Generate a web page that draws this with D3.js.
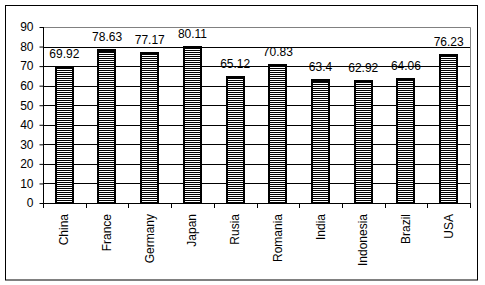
<!DOCTYPE html>
<html>
<head>
<meta charset="utf-8">
<script src="https://cdn.jsdelivr.net/npm/d3@7"></script>
<style>
  body { margin: 0; background: #fff; }
  svg { display: block; font-family: Arial, "Liberation Sans", sans-serif; }
</style>
</head>
<body>
<svg id="chart"></svg>
<script>
var countries = ["China", "France", "Germany", "Japan", "Rusia", "Romania", "India", "Indonesia", "Brazil", "USA"];
var values = [69.92, 78.63, 77.17, 80.11, 65.12, 70.83, 63.4, 62.92, 64.06, 76.23];
var yTicks = [0, 10, 20, 30, 40, 50, 60, 70, 80, 90];

var width = 485;
var height = 285;
var plotLeft = 43, plotRight = 470, plotTop = 27, plotBottom = 203;

var svg = d3.select("#chart").attr("width", width).attr("height", height);

// stripe pattern for bars
var defs = svg.append("defs");
var pat = defs.append("pattern")
    .attr("id", "stripes")
    .attr("patternUnits", "userSpaceOnUse")
    .attr("width", 4).attr("height", 2);
pat.append("rect").attr("width", 4).attr("height", 2).attr("fill", "#fff");
pat.append("rect").attr("width", 4).attr("height", 1).attr("fill", "#000");

// outer border
svg.append("rect")
    .attr("x", 5.5).attr("y", 5.5)
    .attr("width", 472).attr("height", 274.5)
    .attr("fill", "#fff").attr("stroke", "#000");

var x = d3.scaleBand().domain(countries).range([plotLeft, plotRight]).paddingInner(0.55).paddingOuter(0.275);
var y = d3.scaleLinear().domain([0, 90]).range([plotBottom, plotTop]);

// gridlines
svg.append("g").selectAll("line")
    .data(yTicks.filter(function(d) { return d > 0 && d < 90; }))
    .enter().append("line")
    .attr("x1", plotLeft).attr("x2", plotRight)
    .attr("y1", function(d) { return Math.round(y(d)) + 0.5; })
    .attr("y2", function(d) { return Math.round(y(d)) + 0.5; })
    .attr("stroke", "#000");

// plot border top/right (gray)
svg.append("path")
    .attr("d", "M" + plotLeft + "," + (plotTop + 0.5) + "H" + (plotRight + 0.5) + "V" + plotBottom)
    .attr("fill", "none").attr("stroke", "#808080");

// bars
var bars = svg.append("g").selectAll("g")
    .data(values)
    .enter().append("g");

bars.append("rect")
    .attr("x", function(d, i) { return Math.round(x(countries[i])) + 1; })
    .attr("y", function(d) { return Math.round(y(d)) + 1.5; })
    .attr("width", Math.round(x.bandwidth()) - 2)
    .attr("height", function(d) { return plotBottom - Math.round(y(d)) - 1.5; })
    .attr("fill", "url(#stripes)")
    .attr("stroke", "#000").attr("stroke-width", 2);

bars.append("rect")
    .attr("x", function(d, i) { return Math.round(x(countries[i])); })
    .attr("y", function(d) { return Math.round(y(d)); })
    .attr("width", Math.round(x.bandwidth()))
    .attr("height", 3)
    .attr("fill", "#000");

// data labels
bars.append("text")
    .attr("x", function(d, i) { return x(countries[i]) + x.bandwidth() / 2; })
    .attr("y", function(d) { return Math.round(y(d)) - 8; })
    .attr("text-anchor", "middle")
    .attr("font-size", 12)
    .text(function(d) { return d; });

// y axis
var yAxis = d3.axisLeft(y).tickValues(yTicks).tickSize(4).tickPadding(6);
var gy = svg.append("g")
    .attr("transform", "translate(" + (plotLeft + 0.5) + ",0)")
    .call(yAxis);
gy.select(".domain").attr("d", "M0," + plotTop + "V" + (plotBottom + 0.5));
gy.selectAll("text").attr("font-size", 12).attr("font-family", "Arial, 'Liberation Sans', sans-serif").attr("fill", "#000");

// x axis line
svg.append("line")
    .attr("x1", plotLeft).attr("x2", plotRight + 1)
    .attr("y1", plotBottom + 0.5).attr("y2", plotBottom + 0.5)
    .attr("stroke", "#000");

// x ticks at category boundaries
var bounds = countries.map(function(c) { return x(c) - x.step() * x.paddingInner() / 2; });
bounds.push(plotRight);
svg.append("g").selectAll("line")
    .data(bounds)
    .enter().append("line")
    .attr("x1", function(d) { return Math.round(d) + 0.5; })
    .attr("x2", function(d) { return Math.round(d) + 0.5; })
    .attr("y1", plotBottom).attr("y2", plotBottom + 5)
    .attr("stroke", "#000");

// category labels, rotated
svg.append("g").selectAll("text")
    .data(countries)
    .enter().append("text")
    .attr("transform", function(d) {
        return "translate(" + (x(d) + x.bandwidth() / 2 + 4) + "," + (plotBottom + 11) + ") rotate(-90)";
    })
    .attr("text-anchor", "end")
    .attr("font-size", 12)
    .text(function(d) { return d; });
</script>
</body>
</html>
